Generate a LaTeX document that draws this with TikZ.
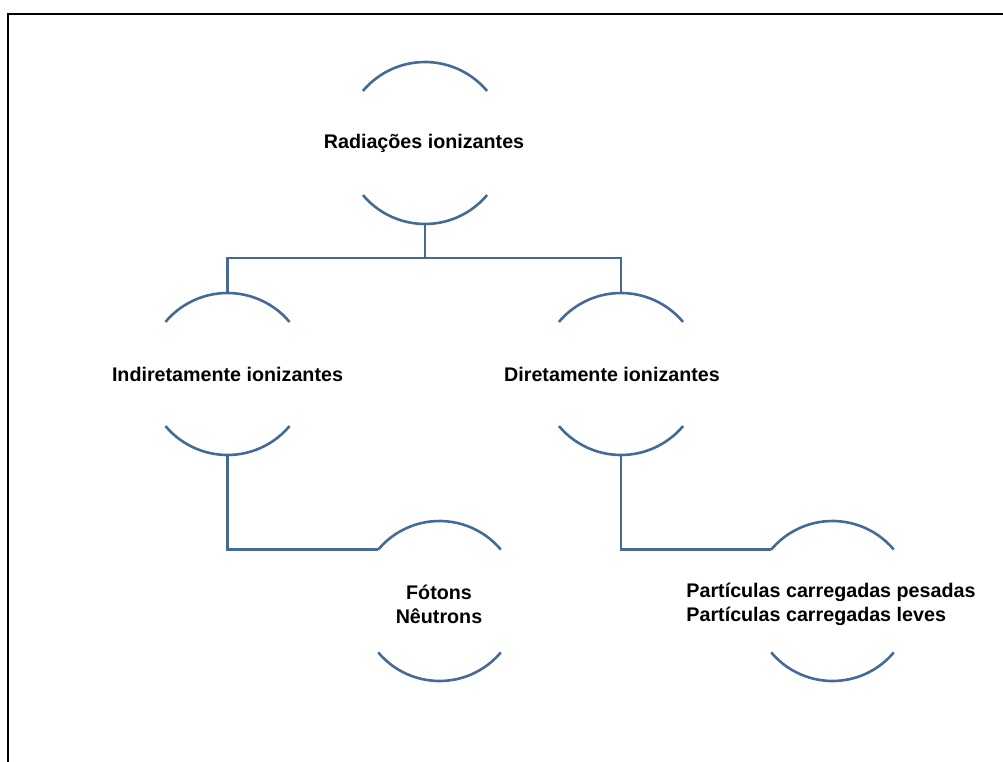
\documentclass[tikz,border=0pt]{standalone}
\usepackage{fontspec}
\setmainfont{Liberation Sans}
\usetikzlibrary{positioning,calc}
\definecolor{lineBlue}{RGB}{70,106,150}
\tikzset{%
  % Specifications for style of nodes:
    topicText/.style = {font=\bfseries\fontsize{19.7}{24}\selectfont, inner sep=0, align=center},
    arcLine/.style = {draw=lineBlue, line width=2.6pt},
    linkLine/.style = {draw=lineBlue, line width=2.6pt},
}

\begin{document}
\begin{tikzpicture}[x=1pt,y=1pt]
	\useasboundingbox (0,0) rectangle (1003,-762);
	\draw[line width=2.6pt] (8,-762) -- (8,-14) -- (1003,-14);

	% top level
	\node [topicText] (radiacoes) at (424,-143) {Radia\c{c}\~oes ionizantes};
	\draw[arcLine] ([shift={(40:81pt)}]425,-143) arc[start angle=40, end angle=140, radius=81pt];
	\draw[arcLine] ([shift={(220:81pt)}]425,-143) arc[start angle=220, end angle=320, radius=81pt];
	\coordinate (radiacoes-bottom) at (425,-224);

	% second level
	\node [topicText] (indireta) at (227.5,-374) {Indiretamente ionizantes};
	\draw[arcLine] ([shift={(40:81pt)}]indireta.center) arc[start angle=40, end angle=140, radius=81pt];
	\draw[arcLine] ([shift={(220:81pt)}]indireta.center) arc[start angle=220, end angle=320, radius=81pt];
	\coordinate (indireta-top) at ([yshift=81pt]indireta.center);
	\coordinate (indireta-bottom) at ([yshift=-81pt]indireta.center);

	\coordinate (direta-c) at (621,-374);
	\node [topicText] (direta) at ([xshift=-9pt]direta-c) {Diretamente ionizantes};
	\draw[arcLine] ([shift={(40:81pt)}]direta-c) arc[start angle=40, end angle=140, radius=81pt];
	\draw[arcLine] ([shift={(220:81pt)}]direta-c) arc[start angle=220, end angle=320, radius=81pt];
	\coordinate (direta-top) at ([yshift=81pt]direta-c);
	\coordinate (direta-bottom) at ([yshift=-81pt]direta-c);

	% third level
	\node [topicText] (fotons) at (439,-604) {F\'otons\\N\^eutrons};
	\draw[arcLine] ([shift={(40:80pt)}]439.5,-601) arc[start angle=40, end angle=140, radius=80pt];
	\draw[arcLine] ([shift={(220:80pt)}]439.5,-601) arc[start angle=220, end angle=320, radius=80pt];
	\coordinate (fotons-in) at ([shift={(140:80pt)}]439.5,-601);

	\node [topicText, align=left] (particulas) at (831,-604) {Part\'iculas carregadas pesadas\\Part\'iculas carregadas leves};
	\draw[arcLine] ([shift={(40:80pt)}]832.5,-601) arc[start angle=40, end angle=140, radius=80pt];
	\draw[arcLine] ([shift={(220:80pt)}]832.5,-601) arc[start angle=220, end angle=320, radius=80pt];
	\coordinate (particulas-in) at ([shift={(140:80pt)}]832.5,-601);

	% connectors
	\coordinate (split) at (425,-258);
	\draw[linkLine] (radiacoes-bottom) -- (split);
	\draw[linkLine] (split) -| (indireta-top);
	\draw[linkLine] (split) -| (direta-top);
	\draw[linkLine] (indireta-bottom) |- (fotons-in);
	\draw[linkLine] (direta-bottom) |- (particulas-in);

\end{tikzpicture}
\end{document}
